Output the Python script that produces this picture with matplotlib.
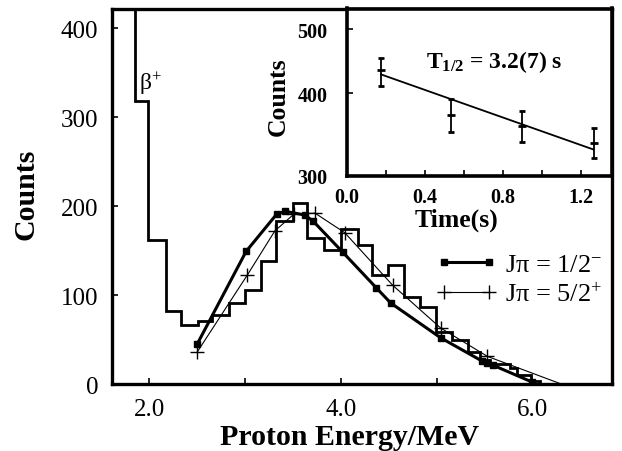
import matplotlib
matplotlib.use("Agg")
import matplotlib.pyplot as plt
from matplotlib.ticker import NullLocator, NullFormatter

plt.rcParams['font.family'] = ['Liberation Serif', 'DejaVu Serif']
plt.rcParams['mathtext.fontset'] = 'custom'
plt.rcParams['mathtext.rm'] = 'Liberation Serif'
plt.rcParams['mathtext.it'] = 'Liberation Serif:italic'
plt.rcParams['mathtext.bf'] = 'Liberation Serif:bold'

# ---------------- data ----------------
# proton energy histogram (bin edges in MeV, counts per bin)
hist_edges = [1.50, 1.848, 1.986, 2.177, 2.334, 2.504, 2.654, 2.835, 3.002, 3.166,
              3.322, 3.496, 3.645, 3.82, 4.004, 4.174, 4.325, 4.488, 4.662, 4.822,
              4.99, 5.16, 5.33, 5.45, 5.56, 5.77, 5.84, 5.98, 6.08]
hist_counts = [1500, 318, 162, 82, 66, 71, 77, 91, 106, 138,
               183, 203, 164, 151, 174, 156, 122, 134, 98, 87,
               59, 49, 36, 27, 23, 18, 10, 3]

# calculated spectra
jpi12_energy = [2.50, 3.01, 3.33, 3.42, 3.62, 3.71, 4.02, 4.37, 4.52, 5.04, 5.47, 5.53, 5.59, 6.00]
jpi12_counts = [45, 149, 191, 194, 190, 183, 148, 108, 91, 52, 26, 24, 21, 2]
jpi52_energy = [2.50, 3.02, 3.31, 3.51, 3.73, 4.04, 4.54, 5.04, 5.53, 6.30]
jpi52_counts = [36, 122, 172, 191, 192, 170, 111, 63, 31, 0]

# inset: decay curve
decay_time = [0.176, 0.534, 0.899, 1.269]
decay_counts = [434, 371, 357, 336]
decay_err_low = [410, 349, 338, 319]
decay_err_high = [452, 392, 376, 354]
fit_time = [0.175, 1.264]
fit_counts = [427, 329]

main_xticks = [2.0, 4.0, 6.0]
main_xtick_labels = ["2.0", "4.0", "6.0"]
main_xminor = [3.0, 5.0]
main_yticks = [0, 100, 200, 300, 400]
inset_xticks = [0.0, 0.4, 0.8, 1.2]
inset_xtick_labels = ["0.0", "0.4", "0.8", "1.2"]
inset_xminor = [0.2, 0.6, 1.0]
inset_yticks = [300, 400, 500]

# ---------------- figure ----------------
fig = plt.figure(figsize=(6.22, 4.52), dpi=100)
W, H = 622.0, 452.0
ax = fig.add_axes([112 / W, 1 - 385 / H, 500 / W, 375.5 / H])

ax.stairs(hist_counts, hist_edges, color='black', lw=2.0, baseline=0)
ax.plot(jpi12_energy, jpi12_counts, '-', color='black', lw=2.2,
        marker='s', ms=5, label=r'J$\mathregular{\pi}$ = 1/2$^{-}$')
ax.plot(jpi52_energy, jpi52_counts, '-', color='black', lw=0.8,
        marker='+', ms=10, mew=1.0, markevery=list(range(len(jpi52_energy) - 1)),
        label=r'J$\mathregular{\pi}$ = 5/2$^{+}$')

ax.set_xlim(1.61, 6.83)
ax.set_ylim(0, 422)
ax.set_xticks(main_xticks)
ax.set_xticklabels(main_xtick_labels)
ax.set_xticks(main_xminor, minor=True)
ax.set_yticks(main_yticks)
ax.tick_params(which='both', direction='in', length=4, width=1.2,
               top=False, right=False, labelsize=18)
ax.tick_params(axis='x', pad=10)
ax.tick_params(axis='y', pad=10)
for s in ax.spines.values():
    s.set_linewidth(2.4)

ax.set_xlabel('Proton Energy/MeV', fontsize=21.5, fontweight='bold')
ax.xaxis.set_label_coords(0.476, -0.139)
ax.xaxis.label.set_verticalalignment('center')
ax.set_ylabel('Counts', fontsize=21.5, fontweight='bold')
ax.yaxis.set_label_coords(-0.172, 0.507)
ax.yaxis.label.set_verticalalignment('center')

ax.text(1.895, 339, r'β$^{+}$', fontsize=17, ha='left', va='center')

leg = ax.legend(loc='upper left', bbox_to_anchor=(436 / W, 1 - 254 / H),
                bbox_transform=fig.transFigure, frameon=False, fontsize=19,
                numpoints=2, handlelength=2.3, handletextpad=0.3,
                labelspacing=0.2, borderpad=0, borderaxespad=0)

# ---------------- inset ----------------
axin = fig.add_axes([347 / W, 1 - 177 / H, 265 / W, 167.5 / H])
axin.set_yscale('log')
yerr = [[c - l for c, l in zip(decay_counts, decay_err_low)],
        [h - c for c, h in zip(decay_counts, decay_err_high)]]
axin.errorbar(decay_time, decay_counts, yerr=yerr, fmt='_', color='black',
              ms=6, mew=2, elinewidth=1.3, capsize=2.2, capthick=3)
axin.plot(fit_time, fit_counts, '-', color='black', lw=1.3)

axin.set_xlim(0, 1.36)
axin.set_ylim(300, 537)
axin.set_xticks(inset_xticks)
axin.set_xticklabels(inset_xtick_labels)
axin.set_xticks(inset_xminor, minor=True)
axin.set_yticks(inset_yticks)
axin.set_yticklabels([str(v) for v in inset_yticks])
axin.yaxis.set_minor_locator(NullLocator())
axin.yaxis.set_minor_formatter(NullFormatter())
axin.tick_params(which='both', direction='in', length=4, width=1.2,
                 top=False, right=False, labelsize=14.5)
axin.tick_params(axis='x', pad=8)
axin.tick_params(axis='y', pad=14)
for lab in axin.get_xticklabels() + axin.get_yticklabels():
    lab.set_fontweight('bold')
for s in axin.spines.values():
    s.set_linewidth(2.6)

axin.set_xlabel('Time(s)', fontsize=18.5, fontweight='bold')
axin.xaxis.set_label_coords(0.415, -0.256)
axin.xaxis.label.set_verticalalignment('center')
axin.set_ylabel('Counts', fontsize=18.5, fontweight='bold')
axin.yaxis.set_label_coords(-0.26, 0.482)
axin.yaxis.label.set_verticalalignment('center')

axin.text(0.555, 0.685, r'T$_{\mathbf{1/2}}$ = 3.2(7) s', transform=axin.transAxes,
          ha='center', va='center', fontsize=17, fontweight='bold')

fig.savefig('out.png', dpi=100)
